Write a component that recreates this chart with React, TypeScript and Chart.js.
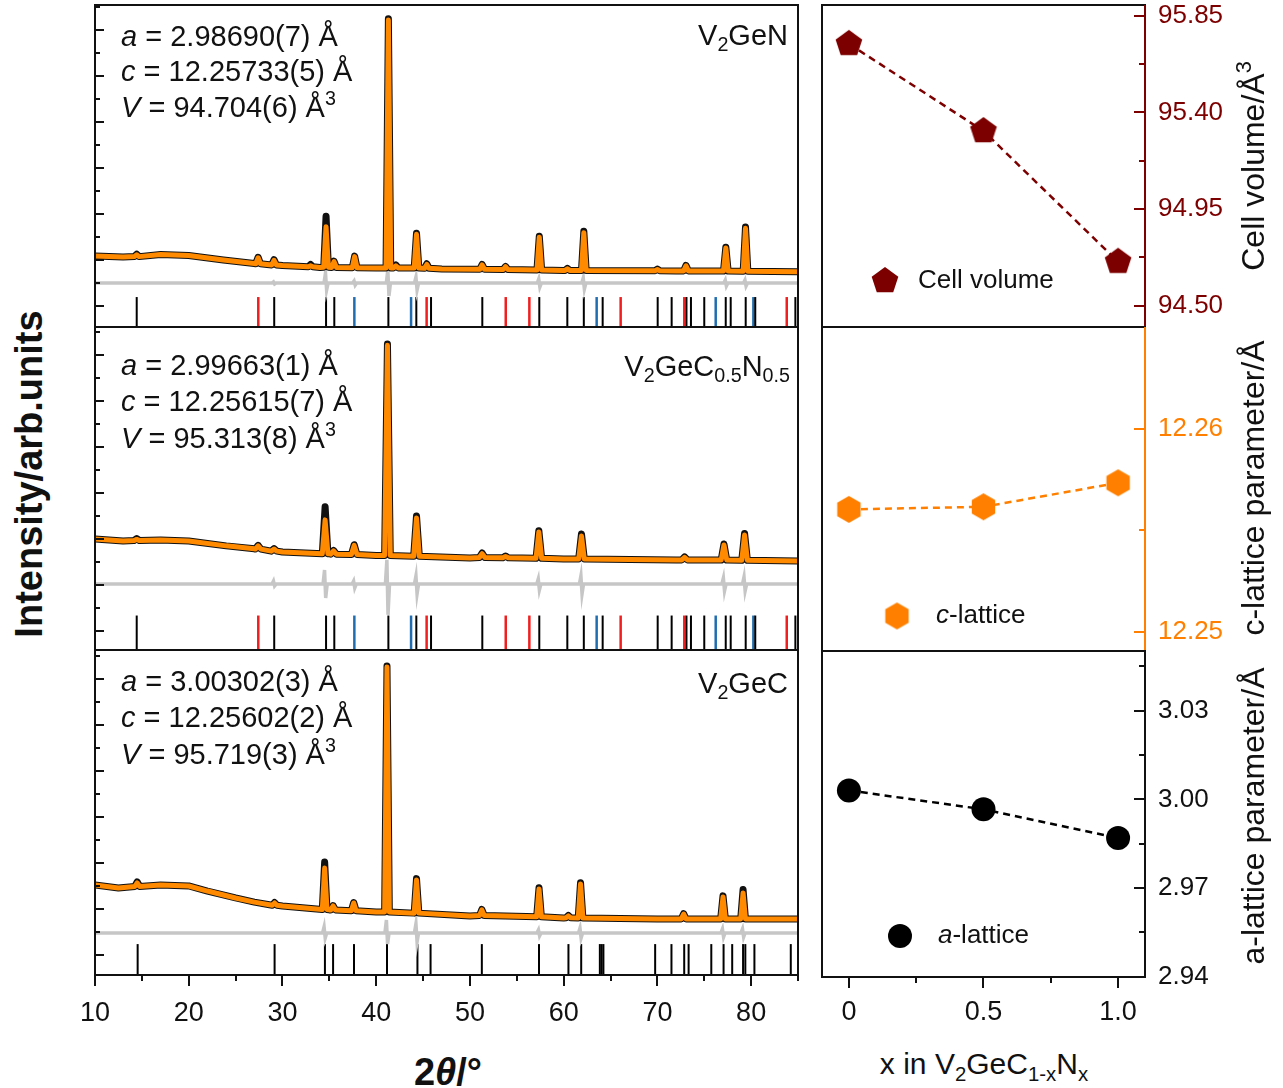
import React, { useEffect, useRef } from 'react';
import { Chart, registerables } from 'chart.js';

Chart.register(...registerables);

const FONT = "'Liberation Sans', Arial, Helvetica, sans-serif";
Chart.defaults.font.family = FONT;
Chart.defaults.color = '#111';

// ======================= DATA =======================
// XRD: 2θ (degrees) and intensity (arbitrary units)
const twoThetaMin = 10;
const twoThetaMax = 85;
const twoThetaTickLabels = [10, 20, 30, 40, 50, 60, 70, 80];
const twoThetaMinorTicks = [15, 25, 35, 45, 55, 65, 75, 85];

// ---- V2GeN (top panel) ----
const bgV2GeN = [[10, 219], [13, 214], [17, 225], [20, 221], [23.7, 201], [27, 186], [30, 177], [34, 169], [40, 167], [47, 162], [60, 156], [72, 154], [85, 150]];
// [2θ, base, calculated top, observed top]
const peaksV2GeN = [
  [14.45, 216, 224, 226], [27.4, 185, 211, 213], [29.1, 180, 200, 203], [33.0, 172, 176, 182],
  [34.65, 170, 346, 392], [35.5, 169, 194, 196], [37.7, 168, 216, 218], [41.3, 167, 1245, 1250],
  [42.1, 167, 176, 180], [44.3, 166, 313, 318], [45.4, 165, 182, 185], [51.3, 161, 180, 182],
  [53.8, 160, 172, 173], [57.4, 158, 300, 305], [60.4, 156, 163, 165], [62.15, 156, 320, 326],
  [70.0, 155, 160, 162], [73.05, 154, 176, 178], [77.3, 153, 253, 257], [79.4, 152, 339, 345],
];
const diffLevelV2GeN = 101;
// [2θ, high, low]
const diffV2GeN = [[29.1, 106, 97], [34.65, 145, 71], [37.7, 110, 92], [41.3, 158, 45], [44.3, 127, 71], [57.4, 119, 84], [62.15, 123, 75], [77.3, 114, 88], [79.4, 114, 88]];
const braggBlackV2GeN = [14.45, 29.12, 34.65, 35.53, 41.3, 44.28, 45.85, 51.32, 57.4, 60.39, 62.15, 64.16, 70.03, 71.52, 73.1, 73.58, 75.0, 77.29, 77.82, 79.42, 80.44, 84.72];
const braggRedV2GeN = [27.42, 45.38, 53.82, 56.34, 66.08, 72.87, 83.8];
const braggBlueV2GeN = [37.67, 43.72, 63.52, 76.22, 80.24];

// ---- V2GeC0.5N0.5 (middle panel) ----
const bgV2GeCN = [[10, 400], [13, 391], [17, 396], [20, 391], [24, 370], [27, 357], [30, 343], [35, 335], [40, 328], [50, 317], [60, 313], [72, 309], [85, 304]];
const peaksV2GeCN = [
  [14.45, 393, 398, 402], [27.4, 356, 370, 372], [29.1, 347, 356, 358], [34.55, 336, 483, 540],
  [35.45, 334, 348, 350], [37.65, 332, 372, 375], [41.2, 328, 1243, 1248], [44.3, 325, 491, 500],
  [51.3, 319, 336, 339], [53.8, 318, 324, 326], [57.35, 316, 430, 436], [61.9, 313, 413, 422],
  [72.9, 309, 320, 322], [77.1, 308, 374, 378], [79.3, 307, 417, 424],
];
const diffLevelV2GeCN = 204;
const diffV2GeCN = [[29.1, 217, 196], [34.55, 265, 143], [37.65, 217, 187], [41.2, 309, 70], [44.3, 239, 161], [57.35, 226, 178], [61.9, 239, 161], [77.1, 230, 174], [79.3, 235, 174]];
const braggBlackV2GeCN = [14.45, 29.12, 34.65, 35.53, 41.3, 44.28, 45.85, 51.32, 57.4, 60.39, 62.15, 64.16, 70.03, 71.52, 73.1, 73.58, 75.0, 77.29, 77.82, 79.42, 80.44, 84.72];
const braggRedV2GeCN = [27.42, 45.38, 53.82, 56.34, 66.08, 72.87, 83.8];
const braggBlueV2GeCN = [37.67, 43.72, 63.52, 76.22, 80.24];

// ---- V2GeC (bottom panel) ----
const bgV2GeC = [[10, 304], [12.5, 291], [17, 304], [20, 300], [22, 278], [25, 248], [27, 230], [30, 213], [35, 196], [40, 187], [50, 170], [60, 161], [70, 157], [85, 157]];
const peaksV2GeC = [
  [14.5, 298, 313, 318], [29.16, 216, 226, 228], [34.5, 198, 378, 404], [35.4, 196, 213, 215],
  [37.6, 192, 226, 228], [41.15, 187, 1252, 1256], [44.3, 182, 326, 332], [51.27, 172, 196, 198],
  [57.37, 166, 287, 292], [60.5, 162, 170, 172], [61.8, 161, 309, 314], [72.8, 157, 178, 180],
  [77.0, 157, 252, 257], [79.14, 157, 270, 285],
];
const diffLevelV2GeC = 96;
const diffV2GeC = [[34.5, 122, 74], [41.15, 152, 48], [44.3, 135, 57], [57.37, 109, 83], [61.8, 117, 74], [77.0, 113, 78], [79.14, 113, 78]];
const braggBlackV2GeC = [14.55, 29.16, 34.53, 35.4, 37.63, 41.15, 44.4, 45.8, 51.27, 57.37, 60.51, 61.87, 63.86, 64.05, 64.24, 69.76, 71.5, 72.86, 73.33, 75.75, 77.06, 77.98, 79.14, 79.38, 80.35, 84.23];

// ---- lattice parameters vs composition ----
const xComposition = [0, 0.5, 1.0];
const xTickLabels = [0, 0.5, 1.0];
const xMinorTicks = [0.25, 0.75];
const cellVolume = [95.719, 95.313, 94.704];
const cellVolumeTicks = [94.5, 94.95, 95.4, 95.85];
const cellVolumeMinor = [94.725, 95.175, 95.625];
const cLattice = [12.25602, 12.25615, 12.25733];
const cLatticeTicks = [12.25, 12.26];
const cLatticeMinor = [12.255];
const aLattice = [3.00302, 2.99663, 2.9869];
const aLatticeTicks = [2.94, 2.97, 3.0, 3.03];
const aLatticeMinor = [2.955, 2.985, 3.015, 3.045];

const refinements = [
  { a: '2.98690(7)', c: '12.25733(5)', V: '94.704(6)' },
  { a: '2.99663(1)', c: '12.25615(7)', V: '95.313(8)' },
  { a: '3.00302(3)', c: '12.25602(2)', V: '95.719(3)' },
];

// ======================= STYLE =======================
const CALC = '#ff8a00';
const OBS = '#111111';
const DIFF = '#c6c6c6';
const BRAGG_RED = '#f01e1e';
const BRAGG_BLUE = '#1f6db0';
const VOL = '#7d0000';
const CLAT = '#ff8000';
const ALAT = '#000000';
const FRAME = '#111111';

// ======================= HELPERS =======================
type Pt = { x: number; y: number };

function profile(bg: number[][], peaks: number[][], col: number, hw: number): Pt[] {
  const pts: Pt[] = bg.map(([x, y]) => ({ x, y }));
  for (const p of peaks) {
    pts.push({ x: p[0] - hw, y: p[1] }, { x: p[0], y: p[col] }, { x: p[0] + hw, y: p[1] });
  }
  return pts.sort((a, b) => a.x - b.x);
}

function diffCurve(level: number, wiggles: number[][]): Pt[] {
  const pts: Pt[] = [{ x: twoThetaMin, y: level }, { x: twoThetaMax, y: level }];
  for (const [x, hi, lo] of wiggles) {
    pts.push({ x: x - 0.22, y: level }, { x: x - 0.06, y: hi }, { x: x + 0.06, y: lo }, { x: x + 0.22, y: level });
  }
  return pts.sort((a, b) => a.x - b.x);
}

function ladder(min: number, max: number, step: number, start: number): number[] {
  const out: number[] = [];
  for (let v = start; v <= max + 1e-9; v += step) if (v >= min) out.push(v);
  return out;
}

const markerCache: Record<string, HTMLCanvasElement> = {};
function polygonMarker(key: string, sides: number, r: number, color: string): HTMLCanvasElement {
  if (markerCache[key]) return markerCache[key];
  const size = Math.ceil(r * 2 + 4);
  const c = document.createElement('canvas');
  c.width = size;
  c.height = size;
  const g = c.getContext('2d')!;
  g.fillStyle = color;
  g.beginPath();
  for (let i = 0; i < sides; i++) {
    const ang = (-90 + (i * 360) / sides) * (Math.PI / 180);
    const px = size / 2 + r * Math.cos(ang);
    const py = size / 2 + r * Math.sin(ang);
    if (i === 0) g.moveTo(px, py);
    else g.lineTo(px, py);
  }
  g.closePath();
  g.fill();
  markerCache[key] = c;
  return c;
}

function makeDeco(cfg: any) {
  return {
    id: 'deco',
    afterDraw(chart: any) {
      const { ctx, chartArea: a } = chart;
      const xs = chart.scales.x;
      const ys = chart.scales.y;
      ctx.save();
      ctx.lineWidth = 2;
      ctx.lineCap = 'butt';
      const line = (color: string, x1: number, y1: number, x2: number, y2: number) => {
        ctx.strokeStyle = color;
        ctx.beginPath();
        ctx.moveTo(x1, y1);
        ctx.lineTo(x2, y2);
        ctx.stroke();
      };
      if (cfg.yTicks) {
        const t = cfg.yTicks;
        const x0 = t.side === 'left' ? a.left : a.right;
        const dir = t.side === 'left' ? 1 : -1;
        t.major.forEach((v: number) => {
          const y = Math.round(ys.getPixelForValue(v));
          line(t.color, x0, y, x0 + dir * t.majorLen, y);
        });
        t.minor.forEach((v: number) => {
          const y = Math.round(ys.getPixelForValue(v));
          line(t.color, x0, y, x0 + dir * t.minorLen, y);
        });
      }
      if (cfg.xTicks) {
        const t = cfg.xTicks;
        t.major.forEach((v: number) => {
          const x = Math.round(xs.getPixelForValue(v));
          line(t.color, x, a.bottom, x, a.bottom + t.majorLen);
        });
        t.minor.forEach((v: number) => {
          const x = Math.round(xs.getPixelForValue(v));
          line(t.color, x, a.bottom, x, a.bottom + t.minorLen);
        });
      }
      const f = cfg.frame;
      line(f.top, a.left - 1, a.top, a.right + 1, a.top);
      line(f.bottom, a.left - 1, a.bottom, a.right + 1, a.bottom);
      line(f.left, a.left, a.top, a.left, a.bottom);
      line(f.right, a.right, a.top, a.right, a.bottom);
      if (cfg.legend) {
        const L = cfg.legend;
        const cx = a.left + L.dx;
        const cy = a.top + L.dy;
        if (L.marker === 'circle') {
          ctx.fillStyle = L.color;
          ctx.beginPath();
          ctx.arc(cx, cy, L.radius, 0, Math.PI * 2);
          ctx.fill();
        } else {
          ctx.drawImage(L.marker, cx - L.marker.width / 2, cy - L.marker.height / 2);
        }
        let x = a.left + L.textDx;
        ctx.fillStyle = '#111';
        ctx.textBaseline = 'middle';
        ctx.textAlign = 'left';
        for (const p of L.parts) {
          ctx.font = `${p.i ? 'italic ' : ''}${L.size}px ${FONT}`;
          ctx.fillText(p.t, x, cy);
          x += ctx.measureText(p.t).width;
        }
      }
      ctx.restore();
    },
  };
}

// ======================= CHART CONFIGS =======================
function xrdConfig(p: any) {
  const braggSet = (xs: number[], color: string, w: number) => ({
    type: 'line',
    data: xs.map((x) => ({ x, y: p.braggY })),
    showLine: false,
    pointStyle: 'line',
    pointRotation: 90,
    pointRadius: p.braggR,
    pointBorderColor: color,
    pointBorderWidth: w,
    borderColor: color,
    order: 3,
  });
  const datasets: any[] = [
    { data: profile(p.bg, p.peaks, 2, p.hw), borderColor: CALC, borderWidth: 5, pointRadius: 0, order: 0, borderJoinStyle: 'round', tension: 0 },
    { data: profile(p.bg, p.peaks, 3, p.hw), borderColor: OBS, borderWidth: 7, pointRadius: 0, order: 1, borderJoinStyle: 'round', tension: 0 },
    { data: diffCurve(p.diffLevel, p.diff), borderColor: DIFF, borderWidth: 3.5, pointRadius: 0, order: 2, tension: 0 },
    braggSet(p.black, '#000', 2),
  ];
  if (p.red) datasets.push(braggSet(p.red, BRAGG_RED, 2.5));
  if (p.blue) datasets.push(braggSet(p.blue, BRAGG_BLUE, 2.5));
  return {
    type: 'line',
    data: { datasets },
    options: {
      responsive: false,
      animation: false,
      devicePixelRatio: 1,
      events: [],
      layout: { autoPadding: false, padding: { left: 35, right: 12, top: p.padTop, bottom: p.padBottom } },
      plugins: { legend: { display: false }, tooltip: { enabled: false } },
      scales: {
        x: {
          type: 'linear',
          min: twoThetaMin,
          max: twoThetaMax,
          display: p.showX,
          position: 'bottom',
          grid: { display: false, drawTicks: false },
          border: { display: false },
          ticks: { font: { size: 27 }, color: '#111', padding: 22, maxRotation: 0, autoSkip: false, callback: (v: any) => String(v) },
          afterBuildTicks: (s: any) => {
            s.ticks = twoThetaTickLabels.map((v) => ({ value: v }));
          },
          afterFit: (s: any) => {
            if (p.showX) s.height = 65;
            s.paddingLeft = 0;
            s.paddingRight = 0;
          },
        },
        y: { type: 'linear', min: p.yMin, max: p.yMax, display: false },
      },
    },
    plugins: [
      makeDeco({
        frame: { top: FRAME, bottom: FRAME, left: FRAME, right: FRAME },
        yTicks: { side: 'left', major: ladder(p.yMin, p.yMax, 200, 0), minor: ladder(p.yMin, p.yMax, 200, 100), color: FRAME, majorLen: 9, minorLen: 5 },
        xTicks: p.showX ? { major: twoThetaTickLabels, minor: twoThetaMinorTicks, color: FRAME, majorLen: 11, minorLen: 6 } : null,
      }),
    ],
  };
}

function latticeConfig(p: any) {
  return {
    type: 'line',
    data: {
      datasets: [
        {
          data: xComposition.map((x, i) => ({ x, y: p.values[i] })),
          borderColor: p.color,
          borderWidth: 2.5,
          borderDash: [7, 5],
          pointStyle: p.marker,
          pointRadius: p.pointRadius,
          pointBackgroundColor: p.color,
          pointBorderColor: p.color,
          pointBorderWidth: 0,
          tension: 0,
          clip: false,
        },
      ],
    },
    options: {
      responsive: false,
      animation: false,
      devicePixelRatio: 1,
      events: [],
      layout: { autoPadding: false, padding: { left: 12, right: 0, top: p.padTop, bottom: p.padBottom } },
      plugins: { legend: { display: false }, tooltip: { enabled: false } },
      scales: {
        x: {
          type: 'linear',
          min: -0.1,
          max: 1.1,
          display: p.showX,
          position: 'bottom',
          grid: { display: false, drawTicks: false },
          border: { display: false },
          ticks: { font: { size: 27 }, color: '#111', padding: 19, maxRotation: 0, autoSkip: false, callback: (v: any) => (v === 0 ? '0' : Number(v).toFixed(1)) },
          afterBuildTicks: (s: any) => {
            s.ticks = xTickLabels.map((v) => ({ value: v }));
          },
          afterFit: (s: any) => {
            if (p.showX) s.height = 63;
            s.paddingLeft = 0;
            s.paddingRight = 0;
          },
        },
        y: {
          type: 'linear',
          position: 'right',
          min: p.yMin,
          max: p.yMax,
          grid: { display: false, drawTicks: false },
          border: { display: false },
          ticks: { font: { size: 26 }, color: p.labelColor, padding: 13, callback: (v: any) => Number(v).toFixed(2) },
          afterBuildTicks: (s: any) => {
            s.ticks = p.ticks.map((v: number) => ({ value: v }));
          },
          afterFit: (s: any) => {
            s.width = 138;
            s.paddingTop = 0;
            s.paddingBottom = 0;
          },
        },
      },
    },
    plugins: [
      makeDeco({
        frame: { top: FRAME, bottom: FRAME, left: FRAME, right: p.axisColor },
        yTicks: { side: 'right', major: p.ticks, minor: p.minor, color: p.axisColor, majorLen: 11, minorLen: 6 },
        xTicks: p.showX ? { major: xTickLabels, minor: xMinorTicks, color: FRAME, majorLen: 11, minorLen: 6 } : null,
        legend: p.legend,
      }),
    ],
  };
}

// ======================= COMPONENTS =======================
function ChartBox({ left, top, width, height, make }: any) {
  const ref = useRef<HTMLCanvasElement>(null);
  useEffect(() => {
    const chart = new Chart(ref.current as HTMLCanvasElement, make());
    return () => chart.destroy();
  }, []);
  return <canvas ref={ref} width={width} height={height} style={{ position: 'absolute', left, top, width, height }} />;
}

const Sub = ({ children }: any) => (
  <span style={{ fontSize: '0.68em', position: 'relative', top: '0.32em', lineHeight: 0 }}>{children}</span>
);
const Sup = ({ children }: any) => (
  <span style={{ fontSize: '0.68em', position: 'relative', top: '-0.6em', lineHeight: 0 }}>{children}</span>
);

const base: React.CSSProperties = { position: 'absolute', whiteSpace: 'nowrap', color: '#111', fontFamily: FONT };

function Anno({ r, centers }: any) {
  const st = (cy: number): React.CSSProperties => ({ ...base, left: 121, top: cy - 16, fontSize: 29, lineHeight: '32px' });
  return (
    <>
      <div style={st(centers[0])}>
        <i>a</i> = {r.a} Å
      </div>
      <div style={st(centers[1])}>
        <i>c</i> = {r.c} Å
      </div>
      <div style={st(centers[2])}>
        <i>V</i> = {r.V} Å<Sup>3</Sup>
      </div>
    </>
  );
}

function Formula({ right, cy, children }: any) {
  return <div style={{ ...base, right: 1283 - right, top: cy - 16, fontSize: 29, lineHeight: '32px' }}>{children}</div>;
}

function VText({ cx, cy, size, bold, children }: any) {
  return (
    <div
      style={{
        ...base,
        left: cx,
        top: cy,
        fontSize: size,
        fontWeight: bold ? 'bold' : 'normal',
        lineHeight: `${Math.round(size * 1.15)}px`,
        transform: 'translate(-50%, -50%) rotate(-90deg)',
      }}
    >
      {children}
    </div>
  );
}

function HText({ cx, cy, size, bold, children }: any) {
  return (
    <div
      style={{
        ...base,
        left: cx,
        top: cy,
        fontSize: size,
        fontWeight: bold ? 'bold' : 'normal',
        lineHeight: `${Math.round(size * 1.15)}px`,
        transform: 'translate(-50%, -50%)',
      }}
    >
      {children}
    </div>
  );
}

export default function App() {
  const pentagon = polygonMarker('pent', 5, 14, VOL);
  const hexagon = polygonMarker('hex', 6, 13.5, CLAT);

  const top = {
    bg: bgV2GeN, peaks: peaksV2GeN, diffLevel: diffLevelV2GeN, diff: diffV2GeN,
    black: braggBlackV2GeN, red: braggRedV2GeN, blue: braggBlueV2GeN,
    yMin: -90, yMax: 1310, braggY: -25, braggR: 15, hw: 0.25, padTop: 5, padBottom: 13, showX: false,
  };
  const mid = {
    bg: bgV2GeCN, peaks: peaksV2GeCN, diffLevel: diffLevelV2GeCN, diff: diffV2GeCN,
    black: braggBlackV2GeCN, red: braggRedV2GeCN, blue: braggBlueV2GeCN,
    yMin: -83, yMax: 1322, braggY: -7, braggR: 17, hw: 0.3, padTop: 7, padBottom: 10, showX: false,
  };
  const bot = {
    bg: bgV2GeC, peaks: peaksV2GeC, diffLevel: diffLevelV2GeC, diff: diffV2GeC,
    black: braggBlackV2GeC, red: null, blue: null,
    yMin: -87, yMax: 1326, braggY: -20, braggR: 15.5, hw: 0.25, padTop: 10, padBottom: 0, showX: true,
  };

  const r1 = {
    values: cellVolume, color: VOL, marker: pentagon, pointRadius: 14, yMin: 94.4, yMax: 95.9,
    ticks: cellVolumeTicks, minor: cellVolumeMinor, labelColor: VOL, axisColor: VOL, padTop: 5, padBottom: 13, showX: false,
    legend: { dx: 63, dy: 276, marker: pentagon, radius: 14, color: VOL, textDx: 96, size: 26, parts: [{ t: 'Cell volume' }] },
  };
  const r2 = {
    values: cLattice, color: CLAT, marker: hexagon, pointRadius: 14, yMin: 12.24905, yMax: 12.265,
    ticks: cLatticeTicks, minor: cLatticeMinor, labelColor: CLAT, axisColor: CLAT, padTop: 7, padBottom: 9, showX: false,
    legend: { dx: 75, dy: 289, marker: hexagon, radius: 13.5, color: CLAT, textDx: 114, size: 26, parts: [{ t: 'c', i: true }, { t: '-lattice' }] },
  };
  const r3 = {
    values: aLattice, color: ALAT, marker: 'circle', pointRadius: 12, yMin: 2.9399, yMax: 3.0502,
    ticks: aLatticeTicks, minor: aLatticeMinor, labelColor: '#111', axisColor: FRAME, padTop: 11, padBottom: 0, showX: true,
    legend: { dx: 78, dy: 285, marker: 'circle', radius: 12, color: ALAT, textDx: 116, size: 26, parts: [{ t: 'a', i: true }, { t: '-lattice' }] },
  };

  return (
    <div style={{ position: 'absolute', left: 0, top: 0, width: 1283, height: 1088, background: '#fff', overflow: 'hidden', fontFamily: FONT }}>
      <ChartBox left={60} top={0} width={750} height={340} make={() => xrdConfig(top)} />
      <ChartBox left={60} top={320} width={750} height={340} make={() => xrdConfig(mid)} />
      <ChartBox left={60} top={640} width={750} height={400} make={() => xrdConfig(bot)} />
      <ChartBox left={810} top={0} width={473} height={340} make={() => latticeConfig(r1)} />
      <ChartBox left={810} top={320} width={473} height={340} make={() => latticeConfig(r2)} />
      <ChartBox left={810} top={640} width={473} height={400} make={() => latticeConfig(r3)} />

      <Anno r={refinements[0]} centers={[36, 71, 107]} />
      <Anno r={refinements[1]} centers={[365, 401, 438]} />
      <Anno r={refinements[2]} centers={[681, 717, 754]} />

      <Formula right={788} cy={35}>
        V<Sub>2</Sub>GeN
      </Formula>
      <Formula right={790} cy={366}>
        V<Sub>2</Sub>GeC<Sub>0.5</Sub>N<Sub>0.5</Sub>
      </Formula>
      <Formula right={788} cy={683}>
        V<Sub>2</Sub>GeC
      </Formula>

      <VText cx={29} cy={474} size={38} bold>
        Intensity/arb.units
      </VText>
      <HText cx={448} cy={1072} size={38} bold>
        2<i>θ</i>/°
      </HText>

      <VText cx={1253} cy={166} size={32}>
        Cell volume/Å<Sup>3</Sup>
      </VText>
      <VText cx={1253} cy={488} size={32}>
        c-lattice parameter/Å
      </VText>
      <VText cx={1253} cy={816} size={32}>
        a-lattice parameter/Å
      </VText>
      <HText cx={984} cy={1063} size={30}>
        x in V<Sub>2</Sub>GeC<Sub>1-x</Sub>N<Sub>x</Sub>
      </HText>
    </div>
  );
}
